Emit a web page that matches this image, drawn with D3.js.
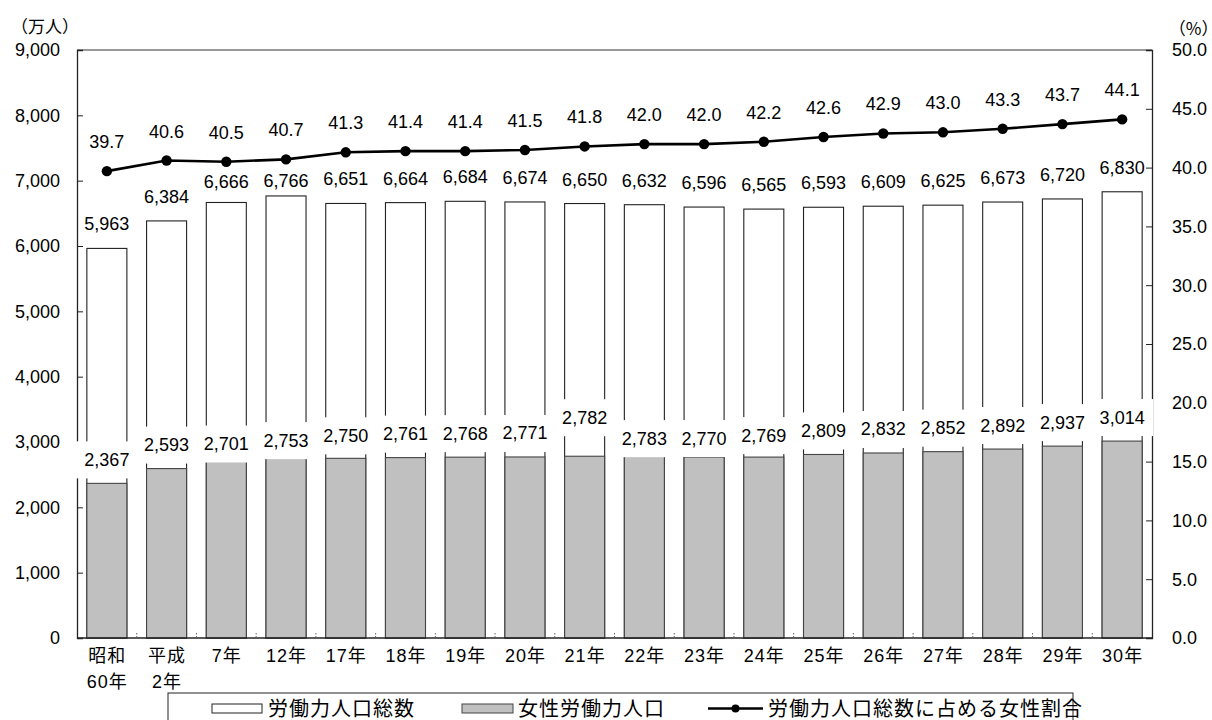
<!DOCTYPE html>
<html lang="ja">
<head>
<meta charset="utf-8">
<script src="https://cdn.jsdelivr.net/npm/d3@7/dist/d3.min.js"></script>
<style>
  html, body { margin: 0; padding: 0; background: #fff; }
  svg { display: block; }
  .num { font-family: "Liberation Sans", Arial, sans-serif; font-size: 18px; fill: #000; }
  .jp { font-family: "Liberation Sans", "Noto Sans CJK JP", sans-serif; fill: #000; }
  .unit { font-family: "Noto Sans CJK JP", sans-serif; fill: #000; }
  .tight { font-feature-settings: "halt" 1; }
</style>
</head>
<body>
<svg id="chart" width="1212" height="720"></svg>
<script>
// 労働力人口の推移（万人）と総数に占める女性の割合（％）
const categories = ["昭和\n60年", "平成\n2年", "7年", "12年", "17年", "18年", "19年", "20年", "21年",
  "22年", "23年", "24年", "25年", "26年", "27年", "28年", "29年", "30年"];
const totalLabor = [5963, 6384, 6666, 6766, 6651, 6664, 6684, 6674, 6650,
  6632, 6596, 6565, 6593, 6609, 6625, 6673, 6720, 6830];
const femaleLabor = [2367, 2593, 2701, 2753, 2750, 2761, 2768, 2771, 2782,
  2783, 2770, 2769, 2809, 2832, 2852, 2892, 2937, 3014];
const femaleShare = [39.7, 40.6, 40.5, 40.7, 41.3, 41.4, 41.4, 41.5, 41.8,
  42.0, 42.0, 42.2, 42.6, 42.9, 43.0, 43.3, 43.7, 44.1];
const leftTicks = [0, 1000, 2000, 3000, 4000, 5000, 6000, 7000, 8000, 9000];
const rightTicks = [0, 5, 10, 15, 20, 25, 30, 35, 40, 45, 50];
const legendLabels = ["労働力人口総数", "女性労働力人口", "労働力人口総数に占める女性割合"];

// small manual label nudges (px, positive = down)
const totalNudge = { 2: 4, 3: 9 };
const femaleNudge = { 2: 6, 3: 6, 4: 1, 8: -15, 9: 6, 10: 5, 11: 2 };

const svg = d3.select("#chart");
const plot = { left: 77, right: 1152, top: 50, bottom: 638 };

const x = d3.scaleBand()
  .domain(d3.range(categories.length))
  .range([plot.left, plot.right])
  .paddingInner(0.33)
  .paddingOuter(0.165);
const yL = d3.scaleLinear().domain([0, 9000]).range([plot.bottom, plot.top]);
const yR = d3.scaleLinear().domain([0, 50]).range([plot.bottom, plot.top]);
const fmt = d3.format(",");

// bars: total (white) with female (gray) overlaid in the same slot
svg.append("g").selectAll("rect").data(totalLabor).join("rect")
  .attr("x", (d, i) => x(i))
  .attr("y", d => yL(d))
  .attr("width", x.bandwidth())
  .attr("height", d => yL(0) - yL(d))
  .attr("fill", "#fff")
  .attr("stroke", "#222")
  .attr("stroke-width", 1.1);

svg.append("g").selectAll("rect").data(femaleLabor).join("rect")
  .attr("x", (d, i) => x(i))
  .attr("y", d => yL(d))
  .attr("width", x.bandwidth())
  .attr("height", d => yL(0) - yL(d))
  .attr("fill", "#c0c0c0")
  .attr("stroke", "#444")
  .attr("stroke-width", 1.1);

// frame top line
svg.append("line")
  .attr("x1", plot.left).attr("x2", plot.right)
  .attr("y1", plot.top).attr("y2", plot.top)
  .attr("stroke", "#333").attr("stroke-width", 1);

// left axis (ticks pointing inward)
const gL = svg.append("g").attr("transform", `translate(${plot.left},0)`)
  .call(d3.axisRight(yL).tickValues(leftTicks).tickSize(6).tickFormat(""));
gL.select(".domain").attr("stroke", "#222").attr("stroke-width", 1.3);
gL.selectAll(".tick line").attr("stroke", "#222");
svg.append("g").selectAll("text").data(leftTicks).join("text")
  .attr("class", "num")
  .attr("x", 60)
  .attr("y", d => yL(d))
  .attr("dy", "0.36em")
  .attr("text-anchor", "end")
  .text(d => fmt(d));

// right axis (ticks pointing inward)
const gR = svg.append("g").attr("transform", `translate(${plot.right},0)`)
  .call(d3.axisLeft(yR).tickValues(rightTicks).tickSize(6).tickFormat(""));
gR.select(".domain").attr("stroke", "#222").attr("stroke-width", 1.3);
gR.selectAll(".tick line").attr("stroke", "#222");
svg.append("g").selectAll("text").data(rightTicks).join("text")
  .attr("class", "num")
  .attr("x", 1172)
  .attr("y", d => yR(d))
  .attr("dy", "0.36em")
  .attr("text-anchor", "start")
  .text(d => d3.format(".1f")(d));

// baseline and small category separators
svg.append("line")
  .attr("x1", plot.left).attr("x2", plot.right)
  .attr("y1", plot.bottom).attr("y2", plot.bottom)
  .attr("stroke", "#222").attr("stroke-width", 1.5);
svg.append("g").selectAll("line").data(d3.range(1, categories.length)).join("line")
  .attr("x1", i => plot.left + i * x.step())
  .attr("x2", i => plot.left + i * x.step())
  .attr("y1", plot.bottom - 5).attr("y2", plot.bottom)
  .attr("stroke", "#666").attr("stroke-width", 1)
  .attr("stroke-dasharray", "1.5,1.5");

// category labels
const catG = svg.append("g");
categories.forEach((c, i) => {
  const t = catG.append("text")
    .attr("class", "jp")
    .attr("text-anchor", "middle")
    .style("font-size", "18px")
    .style("letter-spacing", "1px");
  c.split("\n").forEach((line, k) => {
    t.append("tspan")
      .attr("x", x(i) + x.bandwidth() / 2 + 0.5)
      .attr("y", 662 + k * 26)
      .text(line);
  });
});

// total labels
svg.append("g").selectAll("text").data(totalLabor).join("text")
  .attr("class", "num")
  .attr("x", (d, i) => x(i) + x.bandwidth() / 2)
  .attr("y", (d, i) => yL(d) - 18 + (totalNudge[i] || 0))
  .attr("text-anchor", "middle")
  .text(d => fmt(d));

// female labels on white boxes
const fl = svg.append("g").selectAll("g").data(femaleLabor).join("g")
  .attr("transform", (d, i) =>
    `translate(${x(i) + x.bandwidth() / 2},${yL(d) - 24 + (femaleNudge[i] || 0)})`);
fl.append("rect")
  .attr("x", -31).attr("y", -18)
  .attr("width", 62).attr("height", 37)
  .attr("fill", "#fff");
fl.append("text")
  .attr("class", "num")
  .attr("text-anchor", "middle")
  .attr("dy", "0.36em")
  .text(d => fmt(d));

// share line
const line = d3.line()
  .x((d, i) => x(i) + x.bandwidth() / 2)
  .y(d => yR(d));
svg.append("path")
  .datum(femaleShare)
  .attr("d", line)
  .attr("fill", "none")
  .attr("stroke", "#000")
  .attr("stroke-width", 2.6);
svg.append("g").selectAll("circle").data(femaleShare).join("circle")
  .attr("cx", (d, i) => x(i) + x.bandwidth() / 2)
  .attr("cy", d => yR(d))
  .attr("r", 5.2)
  .attr("fill", "#000");
svg.append("g").selectAll("text").data(femaleShare).join("text")
  .attr("class", "num")
  .attr("x", (d, i) => x(i) + x.bandwidth() / 2)
  .attr("y", d => yR(d) - 23)
  .attr("text-anchor", "middle")
  .text(d => d3.format(".1f")(d));

// unit labels
svg.append("text").attr("class", "unit")
  .attr("x", 11).attr("y", 33)
  .style("font-size", "17px")
  .text("（万人）");
svg.append("text").attr("class", "unit tight")
  .attr("x", 1210).attr("y", 35)
  .attr("text-anchor", "end")
  .style("font-size", "17px")
  .text("（%）");

// legend
const lg = svg.append("g");
lg.append("rect")
  .attr("x", 168).attr("y", 693)
  .attr("width", 905).attr("height", 40)
  .attr("fill", "#fff").attr("stroke", "#222").attr("stroke-width", 1);
lg.append("rect")
  .attr("x", 212).attr("y", 704).attr("width", 50).attr("height", 9)
  .attr("fill", "#fff").attr("stroke", "#222");
lg.append("rect")
  .attr("x", 462).attr("y", 704).attr("width", 51).attr("height", 9)
  .attr("fill", "#c0c0c0").attr("stroke", "#444");
lg.append("line")
  .attr("x1", 708).attr("x2", 763).attr("y1", 708.5).attr("y2", 708.5)
  .attr("stroke", "#000").attr("stroke-width", 2.4);
lg.append("circle")
  .attr("cx", 735.5).attr("cy", 708.5).attr("r", 4).attr("fill", "#000");
const legendX = [268, 518, 768];
legendLabels.forEach((t, i) => {
  lg.append("text").attr("class", "jp")
    .attr("x", legendX[i]).attr("y", 716)
    .style("font-size", "20px")
    .style("letter-spacing", "1px")
    .text(t);
});
</script>
</body>
</html>
